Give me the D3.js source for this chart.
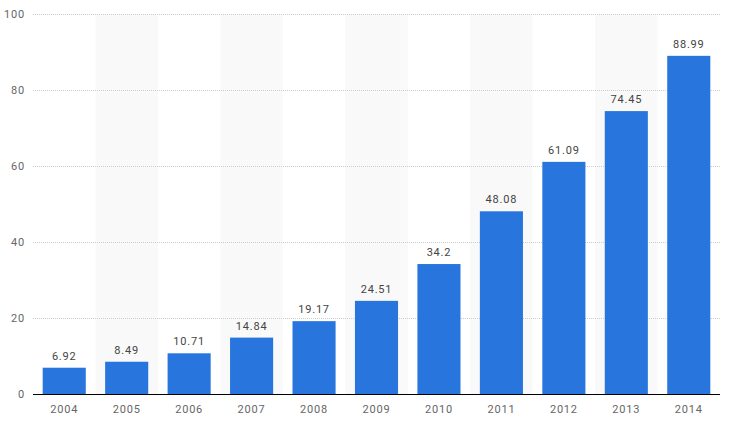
<!DOCTYPE html>
<html lang="en">
<head>
<meta charset="UTF-8">
<title>Bar chart</title>
<style>
    body { margin: 0; background: #fff; }
    text { font-family: Roboto, "Open Sans", sans-serif; letter-spacing: 0.8px; }
    .tick text { fill: #666; font-size: 11px; }
    .label { fill: #444; font-size: 11px; text-anchor: middle; }
    .grid line { stroke: #ccc; stroke-dasharray: 1,1; }
</style>
</head>
<body>
<svg width="729" height="422" id="chart"></svg>
<script src="https://d3js.org/d3.v7.min.js"></script>
<script>
    // data
    const years = ['2004', '2005', '2006', '2007', '2008', '2009', '2010', '2011', '2012', '2013', '2014'];
    const values = [6.92, 8.49, 10.71, 14.84, 19.17, 24.51, 34.2, 48.08, 61.09, 74.45, 88.99];
    const yTicks = [0, 20, 40, 60, 80, 100];

    const svg = d3.select('#chart');
    const plotLeft = 33, plotRight = 720, plotTop = 14, plotBottom = 394;

    const x = d3.scaleBand().domain(years).range([plotLeft, plotRight]).paddingInner(0.31).paddingOuter(0.155);
    const xBand = d3.scaleBand().domain(years).range([plotLeft, plotRight]);
    const y = d3.scaleLinear().domain([0, 100]).range([plotBottom, plotTop]);

    // alternating background bands
    svg.selectAll('.band')
        .data(years.filter((d, i) => i % 2 === 1))
        .enter().append('rect')
        .attr('class', 'band')
        .attr('x', d => xBand(d))
        .attr('y', plotTop)
        .attr('width', xBand.bandwidth())
        .attr('height', plotBottom - plotTop)
        .attr('fill', '#f9f9f9');

    // grid
    svg.append('g')
        .attr('class', 'grid')
        .selectAll('line')
        .data(yTicks.filter(d => d > 0))
        .enter().append('line')
        .attr('x1', plotLeft).attr('x2', plotRight)
        .attr('y1', d => y(d) + 0.5).attr('y2', d => y(d) + 0.5);

    // y axis labels
    const yAxis = svg.append('g')
        .attr('transform', `translate(${plotLeft},0)`)
        .call(d3.axisLeft(y).tickValues(yTicks).tickSize(0).tickPadding(8));
    yAxis.select('.domain').remove();

    // bars
    svg.selectAll('.bar')
        .data(years)
        .enter().append('rect')
        .attr('class', 'bar')
        .attr('x', d => x(d))
        .attr('y', (d, i) => y(values[i]))
        .attr('width', x.bandwidth())
        .attr('height', (d, i) => plotBottom - y(values[i]))
        .attr('fill', '#2876dd');

    // value labels
    svg.selectAll('.label')
        .data(years)
        .enter().append('text')
        .attr('class', 'label')
        .attr('x', d => x(d) + x.bandwidth() / 2)
        .attr('y', (d, i) => y(values[i]) - 8)
        .text((d, i) => values[i]);

    // x axis
    const xAxis = svg.append('g')
        .attr('transform', `translate(0,${plotBottom})`)
        .call(d3.axisBottom(xBand).tickSize(0).tickPadding(11));
    xAxis.select('.domain').attr('stroke', '#000').attr('stroke-width', 1.2)
        .attr('d', `M${plotLeft},0.5H${plotRight}`);
</script>
</body>
</html>
